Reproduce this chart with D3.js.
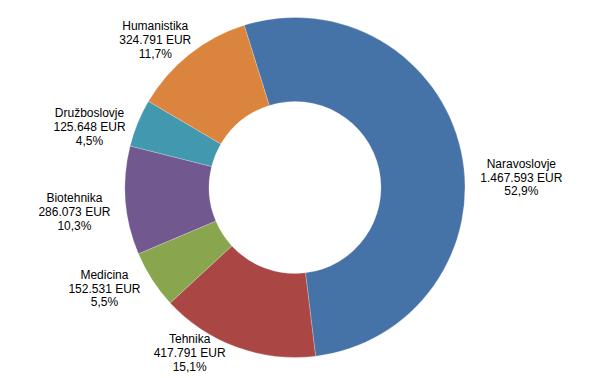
<!DOCTYPE html>
<html>
<head>
<meta charset="utf-8">
<script src="https://cdn.jsdelivr.net/npm/d3@7"></script>
<style>
  html, body { margin: 0; padding: 0; background: #fff; }
  svg { display: block; }
  text { font-family: "Liberation Sans", Arial, sans-serif; font-size: 12px; fill: #000; }
</style>
</head>
<body>
<svg id="chart" width="592" height="378"></svg>
<script>
// ---- data ----
const categories = ["Naravoslovje", "Tehnika", "Medicina", "Biotehnika", "Družboslovje", "Humanistika"];
const amounts = [1467593, 417791, 152531, 286073, 125648, 324791];
const amountLabels = ["1.467.593 EUR", "417.791 EUR", "152.531 EUR", "286.073 EUR", "125.648 EUR", "324.791 EUR"];
const percentLabels = ["52,9%", "15,1%", "5,5%", "10,3%", "4,5%", "11,7%"];

// ---- layout / style ----
const colors = ["#4572A7", "#AA4643", "#89A54E", "#71588F", "#4198AF", "#DB843D"];
const W = 592, H = 378;
const cx = 295, cy = 187.5, outerR = 170, innerR = 86;
const startAngle = -17.4 * Math.PI / 180;
const labelNudge = [[16, 31], [-33, -18], [-14, -5], [-11, 9], [-11, 13], [-9, 5]];
const lineH = 13.8;

const svg = d3.select("#chart");
const g = svg.append("g").attr("transform", `translate(${cx},${cy})`);

const pie = d3.pie().sort(null).value(d => d.v)
  .startAngle(startAngle).endAngle(startAngle + 2 * Math.PI);
const data = categories.map((c, i) => ({ c, v: amounts[i], a: amountLabels[i], p: percentLabels[i], i }));
const arcs = pie(data);
const arc = d3.arc().innerRadius(innerR).outerRadius(outerR);

g.selectAll("path").data(arcs).join("path")
  .attr("d", arc)
  .attr("fill", d => colors[d.data.i])
  .attr("stroke", "#fff")
  .attr("stroke-opacity", 0.45)
  .attr("stroke-width", 0.5);

const labels = g.selectAll("g.lab").data(arcs).join("g").attr("class", "lab");
labels.each(function(d) {
  const sel = d3.select(this);
  const t = sel.append("text").attr("text-anchor", "middle");
  [d.data.c, d.data.a, d.data.p].forEach((s, k) => {
    t.append("tspan").attr("x", 0).attr("y", (k - 1) * lineH + 4.3).text(s);
  });
  const bb = t.node().getBBox();
  const mid = (d.startAngle + d.endAngle) / 2;
  const r0 = outerR + 4;
  const px = Math.sin(mid) * r0, py = -Math.cos(mid) * r0;
  const x = px + Math.sin(mid) * bb.width / 2 + labelNudge[d.data.i][0];
  const y = py - Math.cos(mid) * 21 + labelNudge[d.data.i][1];
  sel.attr("transform", `translate(${x},${y})`);
});
</script>
</body>
</html>
